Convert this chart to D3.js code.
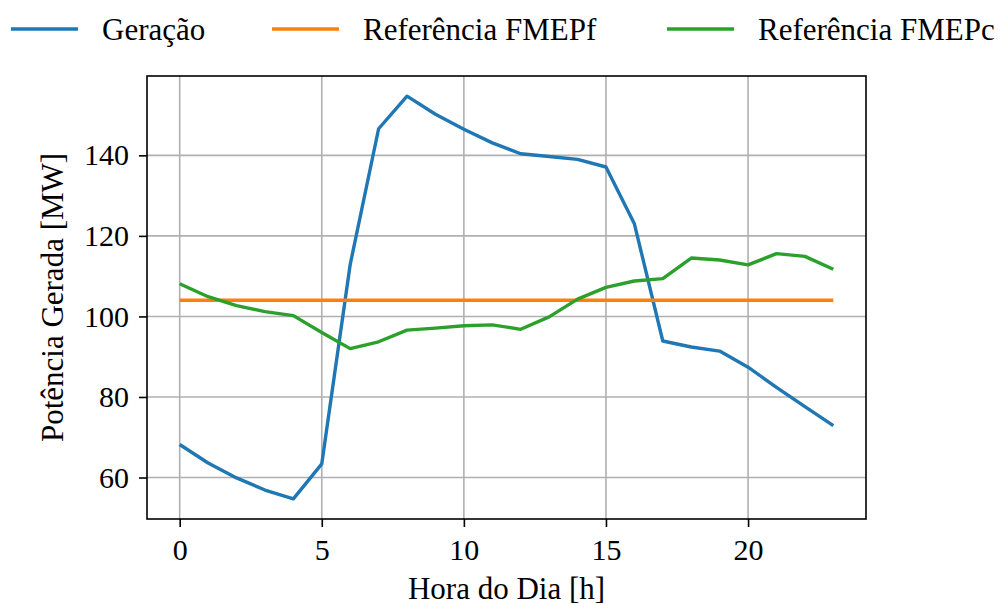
<!DOCTYPE html>
<html>
<head>
<meta charset="utf-8">
<script src="https://cdn.jsdelivr.net/npm/d3@7"></script>
<style>
  body { margin: 0; background: #fff; }
</style>
</head>
<body>
<div id="chart"></div>
<script>
// hours of the day
const hours = d3.range(0, 24);

// series values
const geracao = [68.2, 63.6, 59.9, 56.9, 54.7, 63.4, 112.9, 146.6, 154.7, 150.2, 146.5, 143.1,
                 140.4, 139.7, 139.0, 137.1, 123.0, 93.9, 92.4, 91.4, 87.4, 82.4, 77.6, 72.9];
const refFMEPf = hours.map(() => 104.0);
const refFMEPc = [108.1, 104.9, 102.7, 101.2, 100.2, 96.0, 92.0, 93.7, 96.6, 97.1, 97.7, 97.9,
                  96.8, 99.9, 104.3, 107.2, 108.8, 109.4, 114.5, 114.0, 112.8, 115.6, 114.9, 111.7];

const xTicks = [0, 5, 10, 15, 20];
const yTicks = [60, 80, 100, 120, 140];

const series = [
  { name: "Geração", values: geracao, color: "#1f77b4" },
  { name: "Referência FMEPf", values: refFMEPf, color: "#ff7f0e" },
  { name: "Referência FMEPc", values: refFMEPc, color: "#2ca02c" }
];

const W = 1004, H = 605;
const margin = { top: 76, right: 138, bottom: 86, left: 147 };
const width = W - margin.left - margin.right,
      height = H - margin.top - margin.bottom;
const serif = "'Liberation Serif', 'Times New Roman', serif";

const svg = d3.select("#chart").append("svg")
    .attr("width", W)
    .attr("height", H)
    .attr("font-family", serif);

const g = svg.append("g")
    .attr("transform", `translate(${margin.left},${margin.top})`);

// scales (matplotlib style 5% margins)
const x = d3.scaleLinear().domain([-1.15, 24.15]).range([0, width]);
const y = d3.scaleLinear().domain([49.7, 159.7]).range([height, 0]);

// grid
g.append("g")
  .selectAll("line")
  .data(xTicks)
  .enter().append("line")
    .attr("x1", d => x(d)).attr("x2", d => x(d))
    .attr("y1", 0).attr("y2", height)
    .attr("stroke", "#b0b0b0").attr("stroke-width", 1.6);
g.append("g")
  .selectAll("line")
  .data(yTicks)
  .enter().append("line")
    .attr("y1", d => y(d)).attr("y2", d => y(d))
    .attr("x1", 0).attr("x2", width)
    .attr("stroke", "#b0b0b0").attr("stroke-width", 1.6);

// lines
const line = d3.line()
    .x((d, i) => x(hours[i]))
    .y(d => y(d));

series.forEach(s => {
  g.append("path")
    .datum(s.values)
    .attr("d", line)
    .attr("fill", "none")
    .attr("stroke", s.color)
    .attr("stroke-width", 3.4)
    .attr("stroke-linejoin", "round");
});

// axes
const xAxis = g.append("g")
    .attr("transform", `translate(0,${height})`)
    .call(d3.axisBottom(x).tickValues(xTicks).tickSize(8).tickPadding(12));
const yAxis = g.append("g")
    .call(d3.axisLeft(y).tickValues(yTicks).tickSize(8).tickPadding(10));

[xAxis, yAxis].forEach(a => {
  a.attr("font-family", serif).attr("font-size", 30);
  a.select(".domain").remove();
  a.selectAll(".tick line").attr("stroke", "#000").attr("stroke-width", 1.6);
  a.selectAll(".tick text").attr("fill", "#000");
});

// frame
g.append("rect")
  .attr("x", 0).attr("y", 0)
  .attr("width", width).attr("height", height)
  .attr("fill", "none")
  .attr("stroke", "#000")
  .attr("stroke-width", 1.6);

// axis labels
svg.append("text")
  .attr("text-anchor", "middle")
  .attr("x", margin.left + width / 2)
  .attr("y", 599)
  .attr("font-size", 31)
  .text("Hora do Dia [h]");

svg.append("text")
  .attr("text-anchor", "middle")
  .attr("transform", `translate(63,${margin.top + height / 2}) rotate(-90)`)
  .attr("font-size", 31)
  .text("Potência Gerada [MW]");

// legend
const legendX = [11, 272, 667];
const leg = svg.append("g");
series.forEach((s, i) => {
  leg.append("line")
    .attr("x1", legendX[i]).attr("x2", legendX[i] + 67)
    .attr("y1", 29).attr("y2", 29)
    .attr("stroke", s.color)
    .attr("stroke-width", 3.4);
  leg.append("text")
    .attr("x", legendX[i] + 91)
    .attr("y", 40)
    .attr("font-size", 31)
    .text(s.name);
});
</script>
</body>
</html>
